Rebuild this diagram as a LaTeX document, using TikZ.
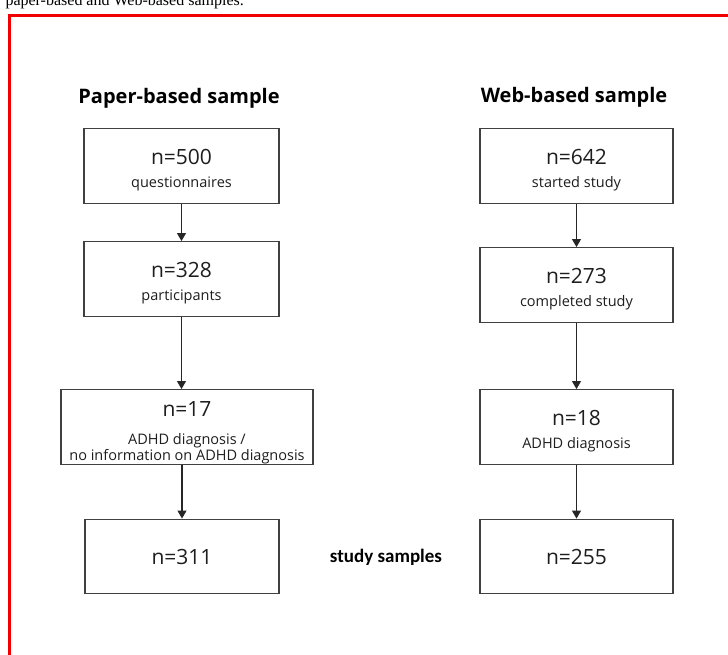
\documentclass[tikz,border=0pt]{standalone}
\usepackage{fontspec}
\setmainfont{Open Sans}
\newfontfamily\labelfont{Carlito}
\newfontfamily\serifcap{Liberation Serif}
\usetikzlibrary{arrows.meta, positioning}
\definecolor{boxgray}{RGB}{64,64,64}
\definecolor{textgray}{RGB}{30,30,30}
\definecolor{framered}{RGB}{240,0,0}
\newcommand{\nstrut}{\rule{0pt}{22.5pt}}
\newcommand{\subtext}[1]{{\fontsize{14.5}{16}\selectfont #1}}

\begin{document}
\begin{tikzpicture}[x=1pt, y=-1pt,
    box/.style={draw=boxgray, line width=1.4pt, minimum height=74.5pt, inner sep=0pt, align=center, text=textgray, font=\fontsize{21}{16}\selectfont},
    head/.style={anchor=base, text=black, font=\bfseries\fontsize{20}{24}\selectfont},
    arr/.style={-{Triangle[length=8pt, width=9pt]}, line width=1.1pt, draw=black!85}]
    \fill[white] (0,0) rectangle (728,654);
    \useasboundingbox (0,0) rectangle (728,654);

    % caption line above the frame (cut off at the top)
    \node[anchor=base west, font=\serifcap\fontsize{16}{18}\selectfont] (caption) at (2,5) {paper-based and Web-based samples.};
    \draw[framered, line width=2.7pt] (9.7,670) -- (9.7,15.3) -- (740,15.3);

    % column titles
    \node[head] (paperhead) at (179,103) {Paper-based sample};
    \node[head] (webhead) at (574,102) {Web-based sample};

    % paper-based sample
    \node[box, minimum width=195pt] (p500) at (181.5,166) {\nstrut n=500\\[7pt]\subtext{questionnaires}};
    \node[box, minimum width=195pt] (p328) at (181.5,279) {\nstrut n=328\\[7pt]\subtext{participants}};
    \node[box, minimum width=252pt] (p17) at (187,427) {\rule{0pt}{25.5pt}n=17\\[12pt]\subtext{ADHD diagnosis /}\\\subtext{no information on ADHD diagnosis}};
    \node[box, minimum width=194pt] (p311) at (182,556.5) {n=311};

    % web-based sample
    \node[box, minimum width=193pt] (w642) at (576.5,166) {\nstrut n=642\\[7pt]\subtext{started study}};
    \node[box, minimum width=193pt] (w273) at (576.5,285) {\nstrut n=273\\[7pt]\subtext{completed study}};
    \node[box, minimum width=193pt] (w18) at (576.5,427) {\nstrut n=18\\[7pt]\subtext{ADHD diagnosis}};
    \node[box, minimum width=193pt] (w255) at (576.5,556.5) {n=255};

    \node[anchor=base, text=black, font=\labelfont\bfseries\fontsize{19}{22}\selectfont] (studylabel) at (386,562) {study samples};

    % arrows
    \draw[arr] (p500.south) -- (p328.north);
    \draw[arr] (p328.south) -- (p328.south |- p17.north);
    \draw[arr] (p311.north |- p17.south) -- (p311.north);
    \draw[arr] (w642.south) -- (w273.north);
    \draw[arr] (w273.south) -- (w18.north);
    \draw[arr] (w18.south) -- (w255.north);
\end{tikzpicture}
\end{document}
